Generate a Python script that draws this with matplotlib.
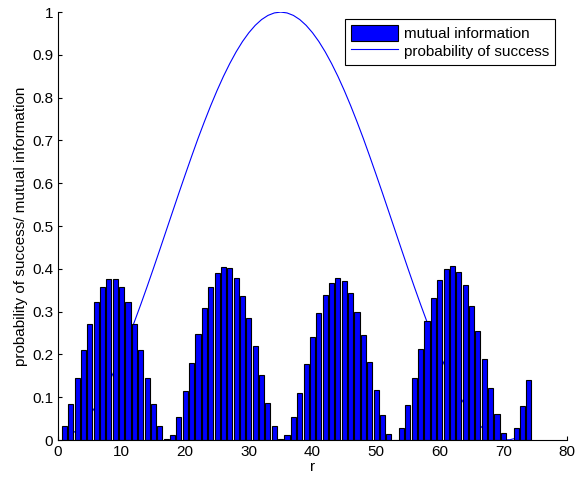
import numpy as np
import matplotlib
matplotlib.use("Agg")
import matplotlib.pyplot as plt

plt.rcParams["font.family"] = ["Liberation Sans", "DejaVu Sans"]

# mutual information bars, r = 1..74
r = np.arange(1, 75)
mutual_info = [
    0.033, 0.083, 0.146, 0.210, 0.272, 0.322, 0.358, 0.376, 0.376, 0.358,
    0.322, 0.272, 0.210, 0.146, 0.083, 0.033, 0.002, 0.012, 0.054, 0.114,
    0.181, 0.248, 0.309, 0.357, 0.390, 0.405, 0.401, 0.378, 0.337, 0.284,
    0.220, 0.152, 0.087, 0.033, 0.002, 0.012, 0.053, 0.111, 0.177, 0.241,
    0.296, 0.340, 0.368, 0.378, 0.371, 0.343, 0.300, 0.245, 0.182, 0.118,
    0.058, 0.014, 0.001, 0.029, 0.081, 0.145, 0.212, 0.278, 0.333, 0.375,
    0.399, 0.406, 0.393, 0.362, 0.314, 0.255, 0.189, 0.121, 0.060, 0.016,
    0.001, 0.029, 0.079, 0.141,
]

# probability of success, r = 1..74
p_success = [
    0.0044, 0.0122, 0.0238, 0.0391, 0.0581, 0.0805, 0.1061, 0.1349, 0.1665, 0.2008,
    0.2374, 0.2760, 0.3164, 0.3582, 0.4011, 0.4448, 0.4890, 0.5331, 0.5771, 0.6203,
    0.6628, 0.7043, 0.7436, 0.7813, 0.8167, 0.8497, 0.8798, 0.9071, 0.9312, 0.9518,
    0.9690, 0.9825, 0.9922, 0.9980, 1.0000, 0.9980, 0.9922, 0.9825, 0.9690, 0.9518,
    0.9312, 0.9071, 0.8798, 0.8497, 0.8167, 0.7813, 0.7436, 0.7043, 0.6628, 0.6203,
    0.5771, 0.5331, 0.4890, 0.4448, 0.4011, 0.3582, 0.3164, 0.2760, 0.2374, 0.2008,
    0.1665, 0.1349, 0.1061, 0.0805, 0.0581, 0.0391, 0.0238, 0.0122, 0.0044, 0.0005,
    0.0005, 0.0044, 0.0122, 0.0238,
]

fig = plt.figure(figsize=(5.83, 4.83), dpi=100)
ax = fig.add_axes([0.0995, 0.089, 0.873, 0.886])

bars = ax.bar(r, mutual_info, width=0.8, color="#0000ff", edgecolor="black",
              linewidth=0.8, zorder=2, label="mutual information")
line, = ax.plot(r, p_success, color="#0000ff", linewidth=0.8, zorder=1,
                label="probability of success")

ax.set_xlim(0, 80)
ax.set_ylim(0, 1)
ax.set_xticks(range(0, 81, 10))
ax.set_yticks(np.arange(0, 1.01, 0.1))
ax.set_yticklabels(["0", "0.1", "0.2", "0.3", "0.4", "0.5", "0.6", "0.7", "0.8", "0.9", "1"])
ax.tick_params(direction="in", length=3, labelsize=11)
ax.spines["top"].set_visible(False)
ax.spines["right"].set_visible(False)

ax.set_xlabel("r", fontsize=11, labelpad=1)
ax.set_ylabel("probability of success/ mutual information", fontsize=11, labelpad=3)

leg = ax.legend([bars, line], ["mutual information", "probability of success"],
                loc="upper right", bbox_to_anchor=(555 / 583, (483 - 19) / 483),
                bbox_transform=fig.transFigure, fancybox=False, framealpha=1,
                edgecolor="black", fontsize=11, borderpad=0.4, handlelength=3.1,
                handleheight=1.2, handletextpad=0.35, labelspacing=0.1,
                borderaxespad=0)
leg.get_frame().set_linewidth(0.8)

fig.savefig("out.png", dpi=100)
